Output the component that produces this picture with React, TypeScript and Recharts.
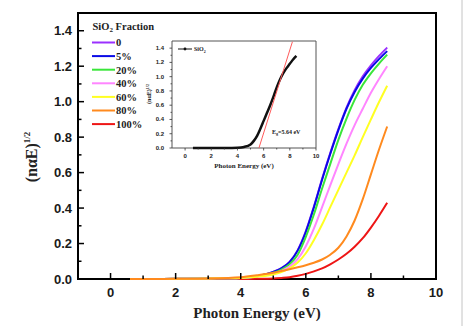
import React from 'react';
import { LineChart, Line, XAxis, YAxis, ReferenceArea } from 'recharts';

// ---------- data ----------
const energies = [0.6, 1, 2, 3, 4, 4.5, 5, 5.25, 5.5, 5.75, 6, 6.25, 6.5, 6.75, 7, 7.25, 7.5, 7.75, 8, 8.25, 8.5];

const frac0 = [0, 0, 0.001, 0.003, 0.006, 0.016, 0.04, 0.061, 0.097, 0.163, 0.27, 0.41, 0.565, 0.71, 0.845, 0.967, 1.065, 1.143, 1.205, 1.258, 1.305];
const frac5 = [0, 0, 0.001, 0.003, 0.006, 0.016, 0.04, 0.06, 0.095, 0.16, 0.265, 0.405, 0.56, 0.705, 0.84, 0.96, 1.055, 1.13, 1.19, 1.24, 1.285];
const frac20 = [0, 0, 0.001, 0.003, 0.006, 0.015, 0.035, 0.053, 0.083, 0.137, 0.238, 0.365, 0.51, 0.648, 0.785, 0.905, 1.01, 1.095, 1.16, 1.215, 1.265];
const frac40 = [0, 0, 0.001, 0.003, 0.006, 0.014, 0.03, 0.046, 0.07, 0.112, 0.185, 0.285, 0.405, 0.528, 0.648, 0.763, 0.868, 0.96, 1.05, 1.128, 1.2];
const frac60 = [0, 0, 0.001, 0.003, 0.006, 0.013, 0.025, 0.039, 0.06, 0.093, 0.145, 0.22, 0.307, 0.405, 0.503, 0.6, 0.697, 0.8, 0.9, 0.998, 1.09];
const frac80 = [0, 0, 0.001, 0.003, 0.01, 0.021, 0.035, 0.045, 0.055, 0.066, 0.078, 0.092, 0.11, 0.137, 0.176, 0.24, 0.33, 0.45, 0.59, 0.73, 0.86];
const frac100 = [0, 0, 0, 0, 0, 0.001, 0.003, 0.006, 0.01, 0.018, 0.029, 0.043, 0.06, 0.083, 0.11, 0.142, 0.182, 0.23, 0.29, 0.357, 0.43];

const seriesNames = ['0', '5%', '20%', '40%', '60%', '80%', '100%'];
const seriesKeys = ['s0', 's5', 's20', 's40', 's60', 's80', 's100'];
const seriesColors = ['#9b30ff', '#0a0ae6', '#3ae63a', '#ff85ff', '#ffff22', '#ff8a1e', '#ee1515'];
const seriesValues = [frac0, frac5, frac20, frac40, frac60, frac80, frac100];
const drawOrder = [6, 0, 1, 2, 3, 4, 5];

const xTicks = [0, 1, 2, 3, 4, 5, 6, 7, 8, 9, 10];
const yTicks = [0, 0.1, 0.2, 0.3, 0.4, 0.5, 0.6, 0.7, 0.8, 0.9, 1.0, 1.1, 1.2, 1.3, 1.4];

// inset (pure SiO2)
const sio2Values = [0, 0, 0, 0.001, 0.005, 0.015, 0.05, 0.1, 0.17, 0.27, 0.38, 0.49, 0.6, 0.72, 0.85, 0.96, 1.05, 1.12, 1.18, 1.24, 1.29];
const tangentX = [5.64, 8.2];
const tangentY = [0, 1.49];
const insetXTicks = [0, 1, 2, 3, 4, 5, 6, 7, 8, 9, 10];
const insetYTicks = [0, 0.1, 0.2, 0.3, 0.4, 0.5, 0.6, 0.7, 0.8, 0.9, 1.0, 1.1, 1.2, 1.3, 1.4];

// ---------- tables ----------
const mainData = energies.map((x, i) => {
  const row: Record<string, number> = { x };
  seriesKeys.forEach((k, j) => {
    row[k] = seriesValues[j][i];
  });
  return row;
});
const sio2Data = energies.map((x, i) => ({ x, y: sio2Values[i] }));
const tangentData = tangentX.map((x, i) => ({ x, y: tangentY[i] }));

const SANS = 'Liberation Sans, Arial, sans-serif';
const SERIF = 'Liberation Serif, Times New Roman, serif';

const MainXTick = (props: any) => {
  const { x, y, payload } = props;
  const v = payload.value;
  const major = v % 2 === 0;
  return (
    <g>
      <line x1={x} x2={x} y1={y} y2={y - (major ? 6 : 3.5)} stroke="#000" strokeWidth={1.5} />
      {major && (
        <text x={x} y={y + 18} textAnchor="middle" fontFamily={SANS} fontWeight="bold" fontSize={13} fill="#1a1a1a">
          {v}
        </text>
      )}
    </g>
  );
};

const MainYTick = (props: any) => {
  const { x, y, payload } = props;
  const v = payload.value;
  const major = Math.round(v * 10) % 2 === 0;
  return (
    <g>
      <line x1={x} x2={x + (major ? 6 : 3.5)} y1={y} y2={y} stroke="#000" strokeWidth={1.5} />
      {major && (
        <text x={x - 6} y={y + 4.5} textAnchor="end" fontFamily={SANS} fontWeight="bold" fontSize={13} fill="#1a1a1a">
          {v.toFixed(1)}
        </text>
      )}
    </g>
  );
};

const InsetXTick = (props: any) => {
  const { x, y, payload } = props;
  const v = payload.value;
  const major = v % 2 === 0;
  return (
    <g>
      <line x1={x} x2={x} y1={y} y2={y + (major ? 2.5 : 1.5)} stroke="#333" strokeWidth={0.8} />
      {major && (
        <text x={x} y={y + 9.5} textAnchor="middle" fontFamily={SANS} fontWeight="bold" fontSize={6} fill="#222">
          {v}
        </text>
      )}
    </g>
  );
};

const InsetYTick = (props: any) => {
  const { x, y, payload } = props;
  const v = payload.value;
  const major = Math.round(v * 10) % 2 === 0;
  return (
    <g>
      <line x1={x} x2={x - (major ? 2.5 : 1.5)} y1={y} y2={y} stroke="#333" strokeWidth={0.8} />
      {major && (
        <text x={x - 8} y={y + 2} textAnchor="end" fontFamily={SANS} fontWeight="bold" fontSize={6} fill="#222">
          {v.toFixed(1)}
        </text>
      )}
    </g>
  );
};

export default function App() {
  return (
    <div style={{ position: 'absolute', left: 0, top: 0, width: 465, height: 326, background: '#fff' }}>
      <div style={{ position: 'absolute', left: 0, top: 0 }}>
        <LineChart width={465} height={326} data={mainData} margin={{ top: 13, right: 29, left: 0, bottom: 0 }}>
          <XAxis
            dataKey="x"
            type="number"
            domain={[-1, 10]}
            ticks={xTicks}
            interval={0}
            height={47}
            tickSize={0}
            tickMargin={0}
            axisLine={false}
            tickLine={false}
            tick={<MainXTick />}
          />
          <YAxis
            type="number"
            domain={[0, 1.5]}
            ticks={yTicks}
            interval={0}
            width={78}
            tickSize={0}
            tickMargin={0}
            axisLine={false}
            tickLine={false}
            tick={<MainYTick />}
          />
          {drawOrder.map((j) => (
            <Line
              key={seriesKeys[j]}
              dataKey={seriesKeys[j]}
              name={seriesNames[j]}
              type="monotone"
              stroke={seriesColors[j]}
              strokeWidth={2}
              dot={false}
              isAnimationActive={false}
            />
          ))}
          <ReferenceArea x1={-1} x2={10} y1={0} y2={1.5} fill="none" stroke="#000" strokeWidth={2} ifOverflow="visible" />
        </LineChart>
      </div>

      <div style={{ position: 'absolute', left: 130, top: 35 }}>
        <LineChart width={200} height={135} margin={{ top: 6, right: 14, left: 0, bottom: 0 }}>
          <XAxis
            dataKey="x"
            type="number"
            domain={[-1, 10]}
            ticks={insetXTicks}
            interval={0}
            height={22}
            tickSize={0}
            tickMargin={0}
            axisLine={false}
            tickLine={false}
            tick={<InsetXTick />}
            allowDuplicatedCategory={false}
          />
          <YAxis
            type="number"
            domain={[0, 1.5]}
            ticks={insetYTicks}
            interval={0}
            width={42}
            tickSize={0}
            tickMargin={0}
            axisLine={false}
            tickLine={false}
            tick={<InsetYTick />}
          />
          <Line data={sio2Data} dataKey="y" name="SiO2" type="monotone" stroke="#111" strokeWidth={2.5} dot={false} isAnimationActive={false} />
          <Line data={tangentData} dataKey="y" name="fit" type="linear" stroke="#ff5a5a" strokeWidth={1} dot={false} isAnimationActive={false} />
          <ReferenceArea x1={-1} x2={10} y1={0} y2={1.5} fill="none" stroke="#555" strokeWidth={1} ifOverflow="visible" />
        </LineChart>
      </div>

      <svg width={465} height={326} style={{ position: 'absolute', left: 0, top: 0, pointerEvents: 'none' }}>
        {/* main legend */}
        <text x={92.5} y={29.5} fontFamily={SERIF} fontWeight="bold" fontSize={10.5} fill="#222">
          SiO
          <tspan dy={2.5} fontSize={7}>2</tspan>
          <tspan dy={-2.5}> Fraction</tspan>
        </text>
        {seriesNames.map((n, i) => {
          const y = 42.5 + i * 13.6;
          return (
            <g key={n}>
              <line x1={92} x2={115} y1={y} y2={y} stroke={seriesColors[i]} strokeWidth={2} />
              <text x={116} y={y + 3.8} fontFamily={SERIF} fontWeight="bold" fontSize={10.5} fill="#222">
                {n}
              </text>
            </g>
          );
        })}

        {/* main axis titles */}
        <text
          x={37}
          y={157}
          transform="rotate(-90 37 157)"
          textAnchor="middle"
          fontFamily={SERIF}
          fontWeight="bold"
          fontSize={16}
          fill="#222"
        >
          (nαE)
          <tspan dy={-7} fontSize={9}>1/2</tspan>
        </text>
        <text x={257} y={318} textAnchor="middle" fontFamily={SERIF} fontWeight="bold" fontSize={15} fill="#222">
          Photon Energy (eV)
        </text>

        {/* inset texts */}
        <text
          x={151}
          y={94}
          transform="rotate(-90 151 94)"
          textAnchor="middle"
          fontFamily={SERIF}
          fontWeight="bold"
          fontSize={6}
          fill="#222"
        >
          (nαE)
          <tspan dy={-2.5} fontSize={4}>1/2</tspan>
        </text>
        <text x={244} y={168} textAnchor="middle" fontFamily={SERIF} fontWeight="bold" fontSize={7} fill="#222">
          Photon Energy (eV)
        </text>
        <line x1={178} x2={192} y1={49} y2={49} stroke="#111" strokeWidth={1} />
        <circle cx={185} cy={49} r={1.4} fill="#111" />
        <text x={194} y={51} fontFamily={SERIF} fontWeight="bold" fontSize={6} fill="#222">
          SiO
          <tspan dy={1.5} fontSize={4}>2</tspan>
        </text>
        <text x={272} y={133.5} fontFamily={SERIF} fontWeight="bold" fontSize={6} fill="#222">
          E
          <tspan dy={1.5} fontSize={4}>g</tspan>
          <tspan dy={-1.5}>=5.64 eV</tspan>
        </text>

        {/* outer figure border */}
        <line x1={462} x2={462} y1={0} y2={326} stroke="#c4c4c4" strokeWidth={1} />
      </svg>
    </div>
  );
}
